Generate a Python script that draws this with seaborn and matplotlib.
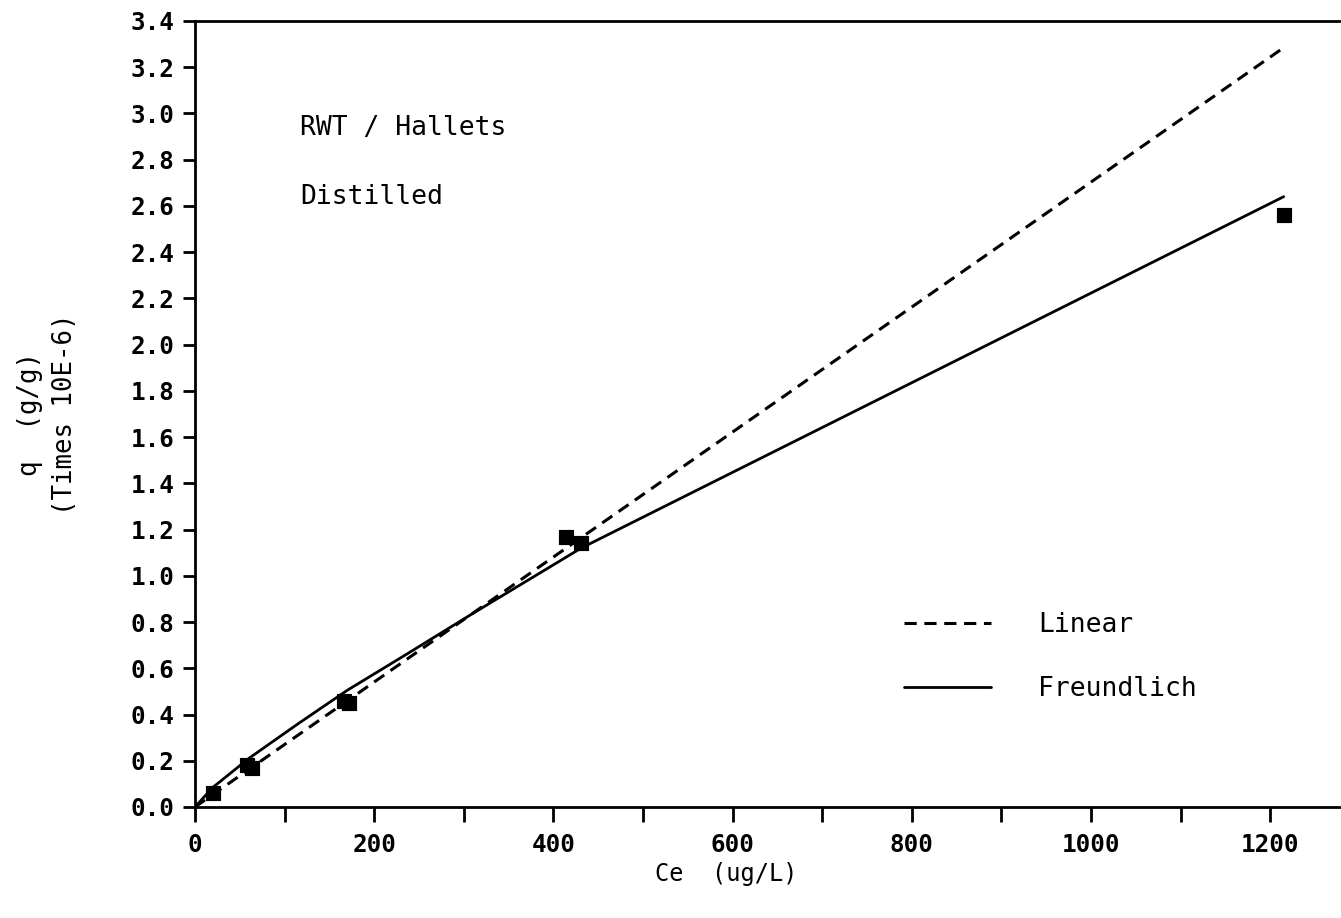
import matplotlib
matplotlib.use("Agg")
import matplotlib.pyplot as plt
import seaborn as sns
import numpy as np
import pandas as pd
from matplotlib.ticker import MultipleLocator, FormatStrFormatter

# Data
ce_obs = [20, 58, 64, 166, 172, 414, 431, 1215]
q_obs = [0.06, 0.18, 0.17, 0.46, 0.45, 1.17, 1.14, 2.56]

linear_x = [0, 1217]
linear_q = [0.0, 3.29]

freund_x = [0, 20, 60, 115, 170, 240, 307, 431, 1215]
freund_q = [0.0, 0.085, 0.21, 0.36, 0.505, 0.67, 0.83, 1.12, 2.64]

legend_labels = ["Linear", "Freundlich"]
annot_lines = ["RWT / Hallets", "Distilled"]

sns.set_theme(style="ticks")
plt.rcParams['font.family'] = ['DejaVu Sans Mono', 'DejaVu Sans']
plt.rcParams['text.color'] = 'black'
plt.rcParams['axes.labelcolor'] = 'black'

fig = plt.figure(figsize=(13.41, 9.18), dpi=100)
ax = fig.add_axes([195/1341, 111/918, 1 - 195/1341, (807-21)/918])

obs = pd.DataFrame({"Ce": ce_obs, "q": q_obs})
lin = pd.DataFrame({"Ce": linear_x, "q": linear_q})
fre = pd.DataFrame({"Ce": freund_x, "q": freund_q})

sns.lineplot(data=lin, x="Ce", y="q", ax=ax, color="black", lw=2.2,
             label=legend_labels[0], estimator=None, sort=False)
ax.lines[-1].set_dashes([4, 2.5])
sns.lineplot(data=fre, x="Ce", y="q", ax=ax, color="black", lw=2.0,
             label=legend_labels[1], estimator=None, sort=False)
sns.scatterplot(data=obs, x="Ce", y="q", ax=ax, marker="s", s=110,
                color="black", edgecolor="black", zorder=5, legend=False)

ax.set_xlim(0, 1279)
ax.set_ylim(0, 3.4)
ax.xaxis.set_major_locator(MultipleLocator(200))
ax.xaxis.set_minor_locator(MultipleLocator(100))
ax.yaxis.set_major_locator(MultipleLocator(0.2))
ax.yaxis.set_major_formatter(FormatStrFormatter("%.1f"))

ax.tick_params(axis="both", which="both", direction="out", width=2, colors="black")
ax.tick_params(axis="x", which="both", length=11, labelsize=17.5, pad=8)
ax.tick_params(axis="y", which="major", length=9, labelsize=17.5, pad=6)
for lab in ax.get_xticklabels() + ax.get_yticklabels():
    lab.set_fontweight("bold")

for side in ["left", "bottom", "top"]:
    ax.spines[side].set_linewidth(2)
    ax.spines[side].set_color("black")
ax.spines["right"].set_visible(False)

ax.set_xlabel("Ce  (ug/L)", fontsize=17)
ax.xaxis.set_label_coords((726-195)/(1341-195), -0.070)
ax.set_ylabel("q  (g/g)\n(Times 10E-6)", fontsize=18.5, linespacing=1.45)
ax.yaxis.set_label_coords(-0.102, 0.5)

ax.text(117, 2.935, annot_lines[0], fontsize=19, ha="left", va="center")
ax.text(117, 2.64, annot_lines[1], fontsize=19, ha="left", va="center")

ax.legend(frameon=False, fontsize=19, handlelength=3.3, handletextpad=1.8,
          labelspacing=1.45, loc="upper left",
          bbox_to_anchor=((880-195)/(1341-195), (807-588)/786))

fig.savefig("out.png", dpi=100)
